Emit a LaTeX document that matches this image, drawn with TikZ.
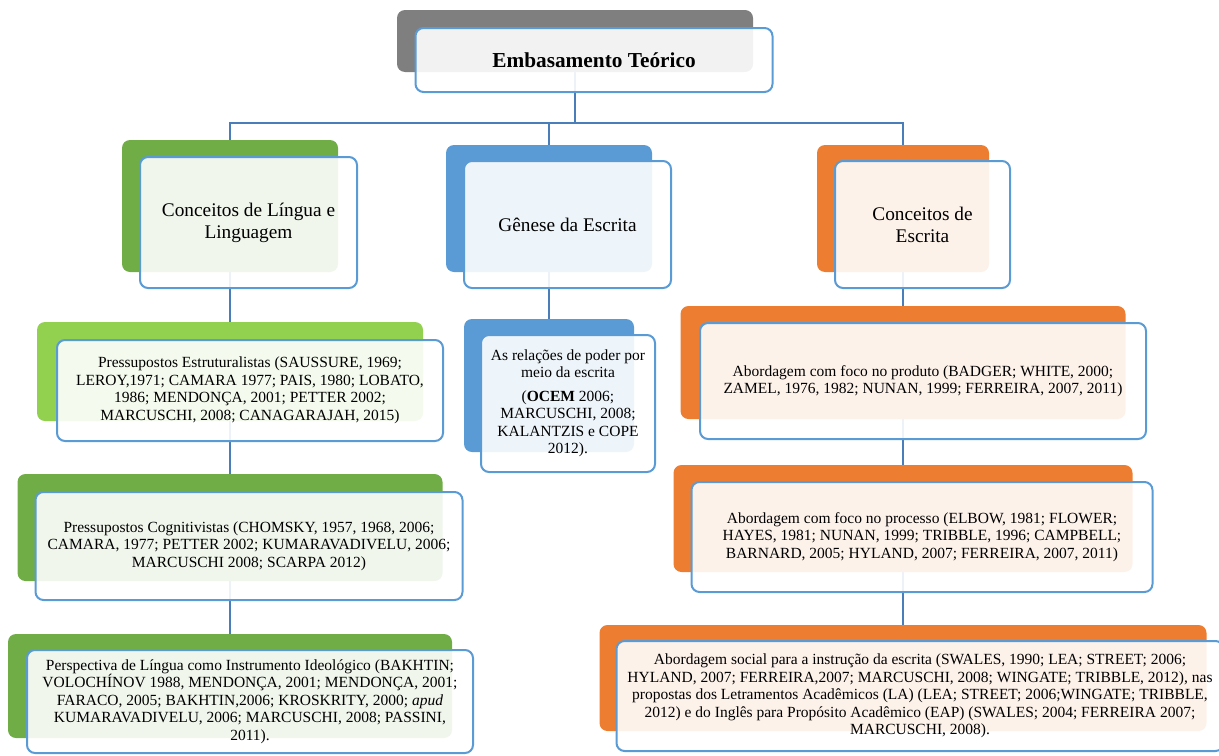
\documentclass[tikz,border=0pt]{standalone}
\usepackage{fontspec}
\setmainfont{Liberation Serif}
\usetikzlibrary{positioning, backgrounds}

\definecolor{frameblue}{HTML}{5B9BD5}
\definecolor{linkblue}{HTML}{4A7EBB}
\definecolor{rootgray}{HTML}{7F7F7F}
\definecolor{leafgreen}{HTML}{70AD47}
\definecolor{limegreen}{HTML}{92D050}
\definecolor{skyblue}{HTML}{5B9BD5}
\definecolor{tangerine}{HTML}{ED7D31}

\begin{document}
\begin{tikzpicture}[
    x=0.5pt, y=-0.5pt,
    every node/.style={align=center, font=\fontsize{7.75}{8.75}\selectfont},
    backbox/.style={rounded corners=4pt, inner sep=0pt, fill=#1},
    frontbox/.style={draw=frameblue, line width=1pt, rounded corners=4pt, fill=white, fill opacity=0.9, text opacity=1, inner sep=2pt},
    headfont/.style={font=\fontsize{9.65}{11}\selectfont},
    link/.style={draw=linkblue, line width=1pt}
  ]
  \useasboundingbox (0,0) rectangle (1219,755);

  % root
  \node[backbox=rootgray, minimum width=178pt, minimum height=31pt] (rootbg) at (575,41) {};
  \node[frontbox, minimum width=178.5pt, minimum height=32pt, font=\fontsize{10.65}{12}\selectfont\bfseries] (root) at ([shift={(19,19)}]rootbg.center) {Embasamento Teórico};

  % first level
  \node[backbox=leafgreen, minimum width=108pt, minimum height=66pt] (linguabg) at (230,206) {};
  \node[frontbox, headfont, minimum width=108.5pt, minimum height=65.5pt] (lingua) at ([shift={(18.5,16.5)}]linguabg.center) {Conceitos de Língua e\\Linguagem};
  \node[backbox=skyblue, minimum width=103pt, minimum height=63.5pt] (genesebg) at (549,208.5) {};
  \node[frontbox, headfont, minimum width=103.5pt, minimum height=63.5pt] (genese) at ([shift={(18.5,16)}]genesebg.center) {Gênese da Escrita};
  \node[backbox=tangerine, minimum width=86pt, minimum height=63.5pt] (escritabg) at (903,208.5) {};
  \node[frontbox, headfont, minimum width=87.5pt, minimum height=63.5pt] (escrita) at ([shift={(19.5,16)}]escritabg.center) {Conceitos de\\Escrita};

  % left column
  \node[backbox=limegreen, minimum width=193pt, minimum height=49.5pt] (estrutbg) at (230,371.5) {};
  \node[frontbox, minimum width=193pt, minimum height=50.5pt] (estrut) at ([shift={(20,19)}]estrutbg.center) {Pressupostos Estruturalistas (SAUSSURE, 1969;\\LEROY,1971; CAMARA 1977; PAIS, 1980; LOBATO,\\1986; MENDONÇA, 2001; PETTER 2002;\\MARCUSCHI, 2008; CANAGARAJAH, 2015)};
  \node[backbox=leafgreen, minimum width=212.5pt, minimum height=53.5pt] (cognitbg) at (230,527.5) {};
  \node[frontbox, minimum width=213.5pt, minimum height=54pt] (cognit) at ([shift={(19,18.5)}]cognitbg.center) {Pressupostos Cognitivistas (CHOMSKY, 1957, 1968, 2006;\\CAMARA, 1977; PETTER 2002; KUMARAVADIVELU, 2006;\\MARCUSCHI 2008; SCARPA 2012)};
  \node[backbox=leafgreen, minimum width=222pt, minimum height=52pt] (ideologbg) at (230,686) {};
  \node[frontbox, minimum width=223pt, minimum height=51.5pt] (ideolog) at ([shift={(20,15.5)}]ideologbg.center) {Perspectiva de Língua como Instrumento Ideológico (BAKHTIN;\\VOLOCHÍNOV 1988, MENDONÇA, 2001; MENDONÇA, 2001;\\FARACO, 2005; BAKHTIN,2006; KROSKRITY, 2000; \textit{apud}\\KUMARAVADIVELU, 2006; MARCUSCHI, 2008; PASSINI,\\2011).};

  % middle column
  \node[backbox=skyblue, minimum width=85pt, minimum height=66.5pt] (poderbg) at (549,385.5) {};
  \node[frontbox, minimum width=87pt, minimum height=68.5pt] (poder) at ([shift={(19,18)}]poderbg.center) {As relações de poder por\\meio da escrita\\[3pt](\textbf{OCEM} 2006;\\MARCUSCHI, 2008;\\KALANTZIS e COPE\\2012).};

  % right column
  \node[backbox=tangerine, minimum width=222.5pt, minimum height=56.5pt] (produtobg) at (903,362.5) {};
  \node[frontbox, minimum width=223pt, minimum height=58pt] (produto) at ([shift={(20,18.5)}]produtobg.center) {Abordagem com foco no produto (BADGER; WHITE, 2000;\\ZAMEL, 1976, 1982; NUNAN, 1999; FERREIRA, 2007, 2011)};
  \node[backbox=tangerine, minimum width=229.5pt, minimum height=53.5pt] (processobg) at (903,518.5) {};
  \node[frontbox, minimum width=230.5pt, minimum height=55pt] (processo) at ([shift={(19,18.5)}]processobg.center) {Abordagem com foco no processo (ELBOW, 1981; FLOWER;\\HAYES, 1981; NUNAN, 1999; TRIBBLE, 1996; CAMPBELL;\\BARNARD, 2005; HYLAND, 2007; FERREIRA, 2007, 2011)};
  \node[backbox=tangerine, minimum width=303.5pt, minimum height=53pt] (socialbg) at (903,678) {};
  \node[frontbox, minimum width=303.5pt, minimum height=55pt] (social) at ([shift={(17,18)}]socialbg.center) {Abordagem social para a instrução da escrita (SWALES, 1990; LEA; STREET; 2006;\\HYLAND, 2007; FERREIRA,2007; MARCUSCHI, 2008; WINGATE; TRIBBLE, 2012), nas\\propostas dos Letramentos Acadêmicos (LA) (LEA; STREET; 2006;WINGATE; TRIBBLE,\\2012) e do Inglês para Propósito Acadêmico (EAP) (SWALES; 2004; FERREIRA 2007;\\MARCUSCHI, 2008).};

  % connectors
  \coordinate (bar) at (0,123);
  \begin{scope}[on background layer]
    \draw[link] (rootbg.center) -- (rootbg.center |- bar) -| (linguabg.center);
    \draw[link] (rootbg.center |- bar) -| (genesebg.center);
    \draw[link] (rootbg.center |- bar) -| (escritabg.center);
    \draw[link] (linguabg.center) -- (estrutbg.center) -- (cognitbg.center) -- (ideologbg.center);
    \draw[link] (genesebg.center) -- (poderbg.center);
    \draw[link] (escritabg.center) -- (produtobg.center) -- (processobg.center) -- (socialbg.center);
  \end{scope}
\end{tikzpicture}
\end{document}
